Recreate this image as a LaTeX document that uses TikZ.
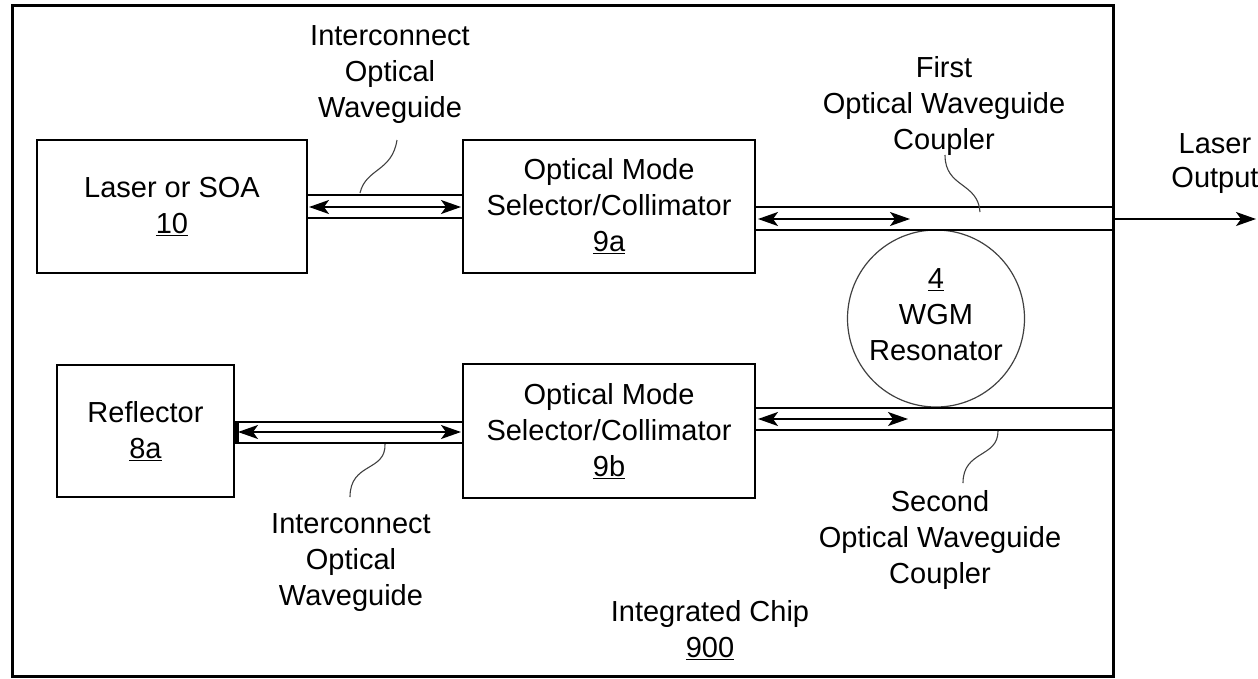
\documentclass[tikz,border=0pt]{standalone}
\usepackage{fontspec}
\setmainfont{Liberation Sans}
\usetikzlibrary{arrows.meta,calc}
\begin{document}
\begin{tikzpicture}[x=1pt,y=-1pt,
  every node/.style={font=\fontsize{29}{36}\selectfont, align=center, inner sep=0pt},
  box/.style={draw, line width=2pt},
  wg/.style={line width=2pt},
  biarrow/.style={line width=1.5pt, {Stealth[length=20pt,width=14pt,inset=5pt]}-{Stealth[length=20pt,width=14pt,inset=5pt]}},
  outarrow/.style={line width=1.5pt, -{Stealth[length=20pt,width=14pt,inset=5pt]}},
  leader/.style={line width=1.1pt, black!75}]
\useasboundingbox (0,0) rectangle (1258,678);

% chip outline
\node[draw, line width=3pt, minimum width=1101pt, minimum height=671pt] (chip) at (562.5,340.5) {};

% boxes
\node[box, minimum width=270pt, minimum height=133pt] (laser) at (172,206.5) {Laser or SOA\\\underline{10}};
\node[box, minimum width=292pt, minimum height=133pt] (sela) at (609,206.5) {Optical Mode\\Selector/Collimator\\\underline{9a}};
\node[box, minimum width=177pt, minimum height=132pt] (refl) at (145.5,431) {Reflector\\\underline{8a}};
\node[box, minimum width=292pt, minimum height=134pt] (selb) at (609,431) {Optical Mode\\Selector/Collimator\\\underline{9b}};

% resonator
\node[draw=black!75, circle, line width=1.2pt, minimum size=177pt] (res) at (936,318.5) {};
\node (restext) at (936,315) {\underline{4}\\WGM\\Resonator};

% y levels
\coordinate (a1) at (0,195);
\coordinate (a2) at (0,218);
\coordinate (am) at (0,207);
\coordinate (c1) at (0,207);
\coordinate (c2) at (0,230);
\coordinate (cm) at (0,219);
\coordinate (d1) at (0,408);
\coordinate (d2) at (0,430);
\coordinate (dm) at (0,419);
\coordinate (b1) at (0,422);
\coordinate (b2) at (0,443);
\coordinate (bm) at (0,432);
\coordinate (cend) at (910,219);
\coordinate (dend) at (908,419);
\coordinate (out) at (1256,219);

% interconnect waveguide top
\draw[wg] (laser.east |- a1) -- (sela.west |- a1);
\draw[wg] (laser.east |- a2) -- (sela.west |- a2);
\draw[biarrow, shorten <=1pt, shorten >=1pt] (laser.east |- am) -- (sela.west |- am);

% first coupler
\draw[wg] (sela.east |- c1) -- (chip.east |- c1);
\draw[wg] (sela.east |- c2) -- (chip.east |- c2);
\draw[biarrow, shorten <=2pt] (sela.east |- cm) -- (cend);

% laser output
\draw[outarrow] (chip.east |- cm) -- (out);

% second coupler
\draw[wg] (selb.east |- d1) -- (chip.east |- d1);
\draw[wg] (selb.east |- d2) -- (chip.east |- d2);
\draw[biarrow, shorten <=2pt] (selb.east |- dm) -- (dend);

% interconnect waveguide bottom
\draw[wg] (refl.east |- b1) -- (selb.west |- b1);
\draw[wg] (refl.east |- b2) -- (selb.west |- b2);
\draw[line width=4pt] ($(refl.east |- b1)+(2,0)$) -- ($(refl.east |- b2)+(2,0)$);
\draw[biarrow, shorten <=3pt, shorten >=1pt] (refl.east |- bm) -- (selb.west |- bm);

% labels
\node (iw1) at (390,75) {Interconnect\\Optical\\Waveguide};
\node (first) at (944,106) {First\\Optical Waveguide\\Coupler};
\node (iw2) at (351,563) {Interconnect\\Optical\\Waveguide};
\node (second) at (940,540) {Second\\Optical Waveguide\\Coupler};
\node (chiplbl) at (710,630) {Integrated Chip\\\underline{900}};
\node[font=\fontsize{29}{34}\selectfont] (outlbl) at (1215,164) {Laser\\Output};

% leaders
\coordinate (l1a) at (360,193);
\coordinate (l1b) at (397,140);
\draw[leader] (l1a) .. controls (366,168) and (392,172) .. (l1b);
\coordinate (l2a) at (980,212);
\coordinate (l2b) at (945,155);
\draw[leader] (l2a) .. controls (978,182) and (945,188) .. (l2b);
\coordinate (l3a) at (385,444);
\coordinate (l3b) at (350,497);
\draw[leader] (l3a) .. controls (386,472) and (350,462) .. (l3b);
\coordinate (l4a) at (998,431);
\coordinate (l4b) at (963,483);
\draw[leader] (l4a) .. controls (998,458) and (963,450) .. (l4b);
\end{tikzpicture}
\end{document}
